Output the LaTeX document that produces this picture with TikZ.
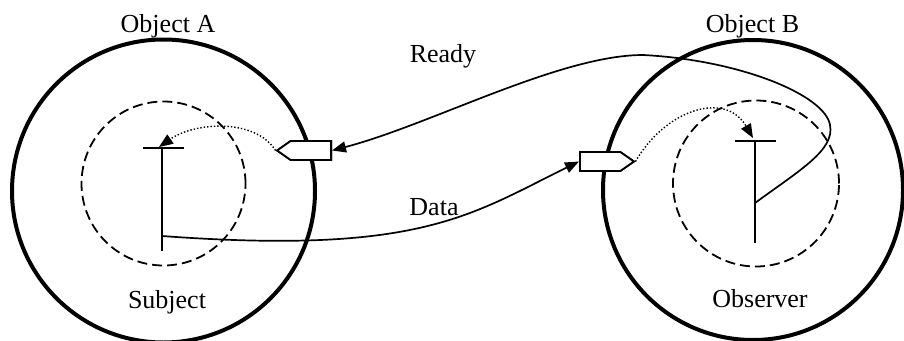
\documentclass[tikz,border=0pt]{standalone}
\usepackage{fontspec}
\setmainfont{Liberation Serif}
\usetikzlibrary{arrows.meta}
\usetikzlibrary{shapes.symbols}

\begin{document}
\begin{tikzpicture}[x=1pt, y=-1pt,
    objet/.style={line width=4pt},
    zone/.style={line width=1.8pt, dash pattern=on 10pt off 5pt},
    tige/.style={line width=2pt},
    lien/.style={line width=1.7pt, -{Triangle[length=14pt,width=11pt]}},
    appel/.style={line width=1.4pt, dash pattern=on 1.4pt off 2pt, -{Triangle[length=14pt,width=11pt]}},
    port/.style={signal, draw, fill=white, line width=1.8pt, minimum width=54pt,
        minimum height=19pt, inner sep=0pt, signal pointer angle=70},
    etiq/.style={font=\fontsize{26}{31}\selectfont, anchor=base, inner sep=0pt}]
    \useasboundingbox (0,0) rectangle (904,340);

    % Objets A et B
    \coordinate (OA) at (163.5,191);
    \coordinate (OB) at (753,190);
    \draw[objet] (OA) circle (151.5pt);
    \draw[objet] (OB) circle (150pt);

    % Zones en pointilles
    \draw[zone] (163.5,183.5) circle (82pt);
    \draw[zone] (756,183.5) circle (83pt);

    % Sujet et observateur
    \coordinate (SA) at (162,148);
    \coordinate (SB) at (755,141);
    \draw[tige] ([xshift=-19pt]SA) -- ([xshift=22pt]SA);
    \draw[tige] (SA) -- (162,251);
    \draw[tige] ([xshift=-20pt]SB) -- ([xshift=21pt]SB);
    \draw[tige] (SB) -- (755,243);

    % Ports
    \node[port, signal to=west, anchor=east] (pA) at (332,150.5) {};
    \node[port, signal to=east, anchor=west] (pB) at (579,161.5) {};

    % Liens Data et Ready
    \coordinate (dA) at (162,236);
    \coordinate (rB) at (755,203);
    \draw[lien] (dA) .. controls (420,255) and (470,215) .. (pB.west);
    \draw[lien] (rB) .. controls (800,170) and (835,150) .. (830,125)
        .. controls (825,95) and (740,60) .. (643,55)
        .. controls (560,55) and (430,125) .. (pA.east);

    % Appels internes
    \coordinate (aA) at (159,147);
    \coordinate (aB) at (753,138);
    \draw[appel] (pA.west) .. controls (255,118) and (195,122) .. (aA);
    \draw[appel] (pB.east) .. controls (665,110) and (725,90) .. (aB);

    % Redessin des ports au-dessus
    \node[port, signal to=west, anchor=east] at (pA.east) {};
    \node[port, signal to=east, anchor=west] at (pB.west) {};

    % Etiquettes
    \node[etiq] (tA) at (168,32) {Object A};
    \node[etiq] (tB) at (752.5,32) {Object B};
    \node[etiq] (tS) at (167,308) {Subject};
    \node[etiq] (tO) at (760,307) {Observer};
    \node[etiq] (tR) at (443,62) {Ready};
    \node[etiq] (tD) at (434,215) {Data};
\end{tikzpicture}
\end{document}
